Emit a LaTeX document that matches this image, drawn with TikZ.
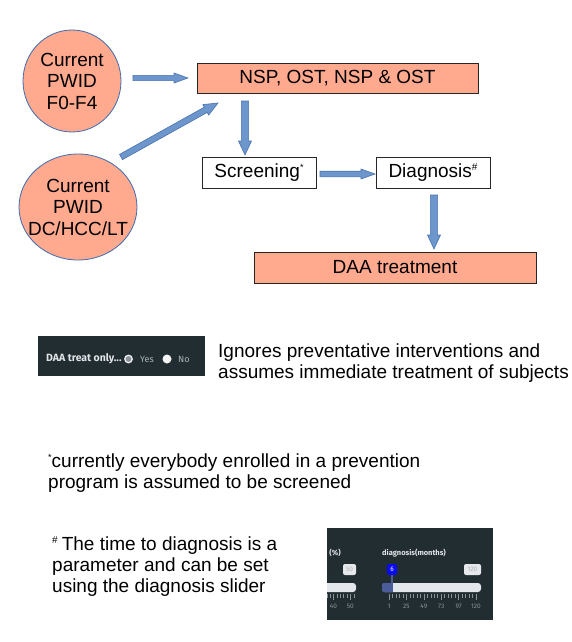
\documentclass[tikz,border=0pt]{standalone}
\usepackage{fontspec}
\setmainfont{Liberation Sans}
\newfontfamily\uifont{Fira Sans}
\usetikzlibrary{calc,shapes.geometric}
\definecolor{salmon}{HTML}{FFA98F}
\definecolor{circedge}{HTML}{3E6BB0}
\definecolor{arrfill}{HTML}{6D96CC}
\definecolor{arredge}{HTML}{4A73AE}
\definecolor{panel}{HTML}{222D32}
\definecolor{uitext}{HTML}{E2E5E8}
\definecolor{uigray}{HTML}{8A9399}
\definecolor{track}{HTML}{E3E6EA}
\definecolor{bubblegray}{HTML}{E6E8EA}
\definecolor{knobblue}{HTML}{0A0AF0}
\definecolor{fillbar}{HTML}{4B5C9B}
% block arrow: #1 start, #2 tip, #3 shaft half width, #4 head half width
\newcommand\blockarrow[4]{%
  \path ($(#2)!14pt!(#1)$) coordinate (bh);
  \filldraw[blockarr] ($(#1)!#3!90:(#2)$) -- ($(bh)!#3!-90:(#1)$) -- ($(bh)!#4!-90:(#1)$) -- (#2)
    -- ($(bh)!#4!90:(#1)$) -- ($(bh)!#3!90:(#1)$) -- ($(#1)!#3!-90:(#2)$) -- cycle;}
\newcommand\supstar{\raisebox{6.5pt}{\fontsize{9}{9}\selectfont *}}
\newcommand\suphash{\raisebox{7pt}{\fontsize{10}{10}\selectfont\#}}
\begin{document}
\begin{tikzpicture}[x=1pt,y=-1pt,
  txt/.style={inner sep=0pt, font=\fontsize{19}{21.5}\selectfont},
  note/.style={inner sep=0pt, anchor=base west, font=\fontsize{19}{21}\selectfont},
  pwid/.style={ellipse, draw=circedge, line width=0.8pt, fill=salmon, inner sep=0pt},
  salbox/.style={draw=black!85, line width=0.8pt, fill=salmon, inner sep=0pt, font=\fontsize{19}{21}\selectfont},
  whbox/.style={draw=black!85, line width=0.8pt, fill=white, inner sep=0pt, font=\fontsize{19}{21}\selectfont},
  blockarr/.style={fill=arrfill, draw=arredge, line width=0.6pt, line join=miter},
  ui/.style={inner sep=0pt, font=\uifont\fontsize{9}{10}\selectfont, text=uitext},
  uismall/.style={inner sep=0pt, font=\uifont\fontsize{6.5}{7}\selectfont, text=uigray},
  bubble/.style={rounded corners=2pt, inner sep=0pt, minimum height=11pt, font=\uifont\fontsize{6.5}{7}\selectfont},
]
\useasboundingbox[fill=white] (0,0) rectangle (572,642);

% populations
\node[pwid, minimum width=98pt, minimum height=102pt] (c1) at (72,81) {};
\node[txt, align=center] (c1t) at (c1) {Current\\PWID\\F0-F4};
\node[pwid, minimum width=118pt, minimum height=106pt] (c2) at (78,207) {};
\node[txt, align=center] (c2t) at (c2) {Current\\PWID\\DC/HCC/LT};

% boxes
\node[salbox, minimum width=281pt, minimum height=30pt] (nsp) at (337.5,78) {NSP, OST, NSP \& OST};
\node[whbox, minimum width=114pt, minimum height=31pt] (scr) at (259,172.5) {Screening\supstar};
\node[whbox, minimum width=114pt, minimum height=31pt] (dia) at (433,172.5) {Diagnosis\suphash};
\node[salbox, minimum width=282pt, minimum height=31pt] (daa) at (395,267.5) {DAA treatment};

% arrows
\coordinate (a1s) at (133,78);  \coordinate (a1e) at (188,78);
\coordinate (a2s) at (121,157); \coordinate (a2e) at (218,103);
\coordinate (a3s) at (245,101); \coordinate (a3e) at (245,155);
\coordinate (a4s) at (320,174); \coordinate (a4e) at (375,174);
\coordinate (a5s) at (434,195); \coordinate (a5e) at (434,249);
\blockarrow{a1s}{a1e}{2.6pt}{5pt}
\blockarrow{a2s}{a2e}{3pt}{6pt}
\blockarrow{a3s}{a3e}{3.6pt}{6.5pt}
\blockarrow{a4s}{a4e}{2.8pt}{5pt}
\blockarrow{a5s}{a5e}{3.6pt}{6.5pt}

% DAA treat only panel
\fill[panel] (38,336) rectangle (205,376);
\node[ui, anchor=west, font=\uifont\bfseries\fontsize{10.5}{11}\selectfont] (daaonly) at (46,359) {DAA treat only...};
\node[circle, draw=white!85!gray, line width=1.3pt, fill=uigray, minimum size=7.5pt, inner sep=0pt] (r1) at (128.5,359) {};
\node[ui, anchor=west, text=uigray!70!white] (yes) at (140,359) {Yes};
\node[circle, fill=white!92!gray, minimum size=9pt, inner sep=0pt] (r2) at (167,359) {};
\node[ui, anchor=west, text=uigray!70!white] (no) at (178,359) {No};

\node[note] (ig1) at (218,357) {Ignores preventative interventions and};
\node[note] (ig2) at (218,378) {assumes immediate treatment of subjects};

% footnotes
\node[note] (f1a) at (48,467) {\supstar currently everybody enrolled in a prevention};
\node[note] (f1b) at (48,488) {program is assumed to be screened};
\node[note] (f2a) at (52,550) {\suphash\hspace{4pt}The time to diagnosis is a};
\node[note] (f2b) at (52,571) {parameter and can be set};
\node[note] (f2c) at (52,592) {using the diagnosis slider};

% slider panel
\fill[panel] (327,528) rectangle (493,620);
\begin{scope}
\clip (327,528) rectangle (493,620);
\node[ui, anchor=east, font=\uifont\bfseries\fontsize{7.5}{8}\selectfont] (pct) at (341,553) {(\%)};
\fill[track, rounded corners=3pt] (300,583) rectangle (356,592);
\foreach \x in {316.5,320,323.4,326.8,330.2,336.8,340.2,343.6,347,353.8} \draw[uigray, line width=0.5pt] (\x,594) -- (\x,597.5);
\foreach \x in {333.5,350.4} \draw[uigray, line width=0.5pt] (\x,594) -- (\x,600);
\node[uismall] (l40) at (333.5,606) {40};
\node[uismall] (l50) at (350.4,606) {50};
\node[bubble, fill=bubblegray, text=uigray!70, minimum width=13pt] (b50) at (349.5,569.5) {50};
\end{scope}
\node[ui, anchor=west, font=\uifont\bfseries\fontsize{7.5}{8}\selectfont] (diagl) at (382,553) {diagnosis(months)};
\fill[track, rounded corners=3pt] (382,583) rectangle (481,592);
\fill[fillbar, rounded corners=2pt] (382,583) rectangle (392.5,592);
\draw[fillbar, line width=1.2pt] (392,575) -- (392,592);
\node[bubble, fill=knobblue, text=white, minimum width=10pt] (b6) at (392,569.5) {6};
\node[bubble, fill=bubblegray, text=uigray!70, minimum width=17pt] (b120) at (472.5,569.5) {120};
\foreach \i in {0,...,5} {
  \pgfmathsetmacro\xa{389+\i*17.4}
  \draw[uigray, line width=0.5pt] (\xa,594) -- (\xa,600);
  \ifnum\i<5
    \foreach \j in {1,2,3,4} {
      \pgfmathsetmacro\xb{\xa+\j*3.48}
      \draw[uigray, line width=0.5pt] (\xb,594) -- (\xb,597.5);
    }
  \fi
}
\node[uismall] (t1) at (389,606) {1};
\node[uismall] (t25) at (406.4,606) {25};
\node[uismall] (t49) at (423.8,606) {49};
\node[uismall] (t73) at (441.2,606) {73};
\node[uismall] (t97) at (458.6,606) {97};
\node[uismall] (t120) at (476,606) {120};
\end{tikzpicture}
\end{document}
